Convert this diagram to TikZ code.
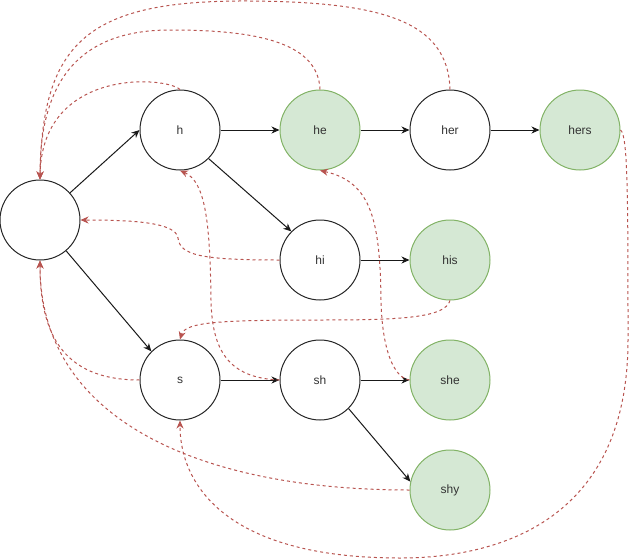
\documentclass[tikz,border=0pt]{standalone}
\usepackage{fontspec}
\setmainfont{Liberation Sans}
\usetikzlibrary{arrows.meta}
\definecolor{failred}{HTML}{B85450}
\definecolor{accfill}{HTML}{D5E8D4}
\definecolor{accdraw}{HTML}{82B366}
\definecolor{txt}{HTML}{333333}
\tikzset{
  state/.style={circle, draw=black!85, line width=1pt, minimum size=80pt, inner sep=0pt,
    font=\fontsize{12}{14}\selectfont, text=txt},
  accept/.style={state, draw=accdraw, fill=accfill},
  goto/.style={line width=1pt, draw=black!90, -{Stealth[length=8pt,width=7pt,inset=2.5pt]}},
  fail/.style={line width=1pt, draw=failred, dash pattern=on 3pt off 3pt,
    -{Stealth[length=8pt,width=7pt,inset=2.5pt,fill=failred]}},
}
\begin{document}
\begin{tikzpicture}[x=1pt,y=-1pt]
\useasboundingbox (0,0) rectangle (630,560);
\node[state]  (root) at (40,220) {};
\node[state]  (h)    at (180,130) {h};
\node[accept] (he)   at (320,130) {he};
\node[state]  (her)  at (450,130) {her};
\node[accept] (hers) at (580,130) {hers};
\node[state]  (hi)   at (320,260) {hi};
\node[accept] (his)  at (450,260) {his};
\node[state]  (s)    at (180,380) {s};
\node[state]  (sh)   at (320,380) {sh};
\node[accept] (she)  at (450,380) {she};
\node[accept] (shy)  at (450,490) {shy};

% goto edges
\draw[goto] (root) -- (h.west);
\draw[goto] (root) -- (s.135);
\draw[goto] (h.east) -- (he.west);
\draw[goto] (h.-45) -- (hi.135);
\draw[goto] (he.east) -- (her.west);
\draw[goto] (her.east) -- (hers.west);
\draw[goto] (hi.east) -- (his.west);
\draw[goto] (s.east) -- (sh.west);
\draw[goto] (sh.east) -- (she.west);
\draw[goto] (sh.-45) -- (shy.168);

% failure links
\draw[fail] (h.north) .. controls (165,76) and (42,68) .. (root.north);
\draw[fail] (he.north) .. controls (318,40) and (250,30) .. (170,30)
            .. controls (80,30) and (40,80) .. (root.north);
\draw[fail] (her.north) .. controls (448,20) and (380,2) .. (250,1)
            .. controls (90,0) and (42,40) .. (root.north);
\draw[fail] (hi.west) .. controls (200,260) and (180,255) .. (178,238)
            .. controls (176,222) and (130,220) .. (root.east);
\draw[fail] (his.south) .. controls (445,318) and (400,320) .. (320,320)
            .. controls (220,320) and (185,322) .. (s.north);
\draw[fail] (sh.west) .. controls (228,378) and (212,350) .. (211,300)
            .. controls (210,225) and (206,182) .. (h.south);
\draw[fail] (she.west) .. controls (394,378) and (382,350) .. (381,300)
            .. controls (380,222) and (372,182) .. (he.south);
\draw[fail] (s.west) .. controls (60,380) and (40,330) .. (root.south);
\draw[fail] (shy.west) .. controls (200,490) and (40,420) .. (root.south);
\draw[fail] (hers.east) .. controls (628,135) and (628,200) .. (628,340)
            .. controls (628,520) and (500,558) .. (400,558)
            .. controls (220,558) and (180,480) .. (s.south);
\end{tikzpicture}
\end{document}
